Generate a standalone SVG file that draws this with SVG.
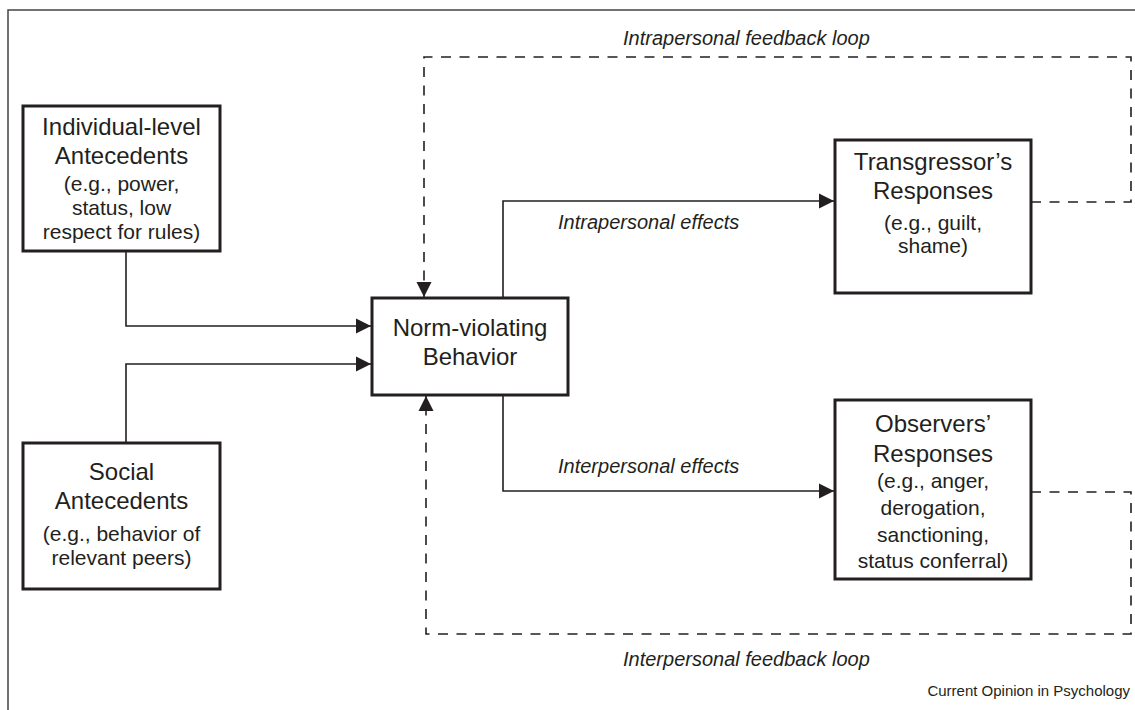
<svg xmlns="http://www.w3.org/2000/svg" width="1135" height="710" viewBox="0 0 1135 710">
<defs>
<style>
.box{fill:#fff;stroke:#231f20;stroke-width:3}
.t{font-family:"Liberation Sans",Arial,sans-serif;font-size:24px;fill:#231f20;text-anchor:middle}
.s{font-family:"Liberation Sans",Arial,sans-serif;font-size:21px;fill:#231f20;text-anchor:middle}
.lbl{font-family:"Liberation Sans",Arial,sans-serif;font-size:20px;font-style:italic;fill:#231f20}
.solid{fill:none;stroke:#231f20;stroke-width:1.6}
.dash{fill:none;stroke:#231f20;stroke-width:1.6;stroke-dasharray:10 8.5}
.frame{fill:none;stroke:#444;stroke-width:1.5}
</style>
<marker id="arr" markerUnits="userSpaceOnUse" markerWidth="17" markerHeight="17" viewBox="0 0 17 17" refX="16" refY="8.5" orient="auto">
<path d="M1,1 L16,8.5 L1,16 Z" fill="#231f20"/>
</marker>
</defs>
<rect width="1135" height="710" fill="#fff"/>
<path class="frame" d="M8,710 V10 H1135"/>

<g id="connectors">
<path class="solid" d="M126,251 V326 H371" marker-end="url(#arr)"/>
<path class="solid" d="M126,443 V364 H371" marker-end="url(#arr)"/>
<path class="solid" d="M503,298 V201 H834" marker-end="url(#arr)"/>
<path class="solid" d="M503,395 V491 H834" marker-end="url(#arr)"/>
<path class="dash" d="M1031,202 H1131 V57 H424 V282"/>
<path class="solid" d="M424,282 V297" marker-end="url(#arr)" stroke-width="0"/>
<path class="dash" d="M1031,492 H1131 V634 H426 V412"/>
<path class="solid" d="M426,412 V396" marker-end="url(#arr)" stroke-width="0"/>
<text class="lbl" x="558" y="229">Intrapersonal effects</text>
<text class="lbl" x="558" y="473">Interpersonal effects</text>
<text class="lbl" x="623" y="45">Intrapersonal feedback loop</text>
<text class="lbl" x="623" y="666">Interpersonal feedback loop</text>
</g>

<g id="individual">
<rect class="box" x="23" y="106" width="197" height="145"/>
<text class="t" x="121.5" y="135">Individual-level</text>
<text class="t" x="121.5" y="164">Antecedents</text>
<text class="s" x="121.5" y="191">(e.g., power,</text>
<text class="s" x="121.5" y="215">status, low</text>
<text class="s" x="121.5" y="239">respect for rules)</text>
</g>

<g id="social">
<rect class="box" x="23" y="443" width="197" height="146"/>
<text class="t" x="121.5" y="480">Social</text>
<text class="t" x="121.5" y="509">Antecedents</text>
<text class="s" x="121.5" y="541">(e.g., behavior of</text>
<text class="s" x="121.5" y="565">relevant peers)</text>
</g>

<g id="norm">
<rect class="box" x="372" y="298" width="196" height="97"/>
<text class="t" x="470" y="336">Norm-violating</text>
<text class="t" x="470" y="365">Behavior</text>
</g>

<g id="transgressor">
<rect class="box" x="835" y="140" width="196" height="153"/>
<text class="t" x="933" y="170">Transgressor’s</text>
<text class="t" x="933" y="199">Responses</text>
<text class="s" x="933" y="230">(e.g., guilt,</text>
<text class="s" x="933" y="253">shame)</text>
</g>

<g id="observers">
<rect class="box" x="835" y="400" width="196" height="179"/>
<text class="t" x="933" y="432">Observers’</text>
<text class="t" x="933" y="462">Responses</text>
<text class="s" x="933" y="488">(e.g., anger,</text>
<text class="s" x="933" y="515">derogation,</text>
<text class="s" x="933" y="542">sanctioning,</text>
<text class="s" x="933" y="568">status conferral)</text>
</g>

<text x="1130" y="696" font-family="Liberation Sans, Arial, sans-serif" font-size="15" fill="#231f20" text-anchor="end">Current Opinion in Psychology</text>
</svg>
